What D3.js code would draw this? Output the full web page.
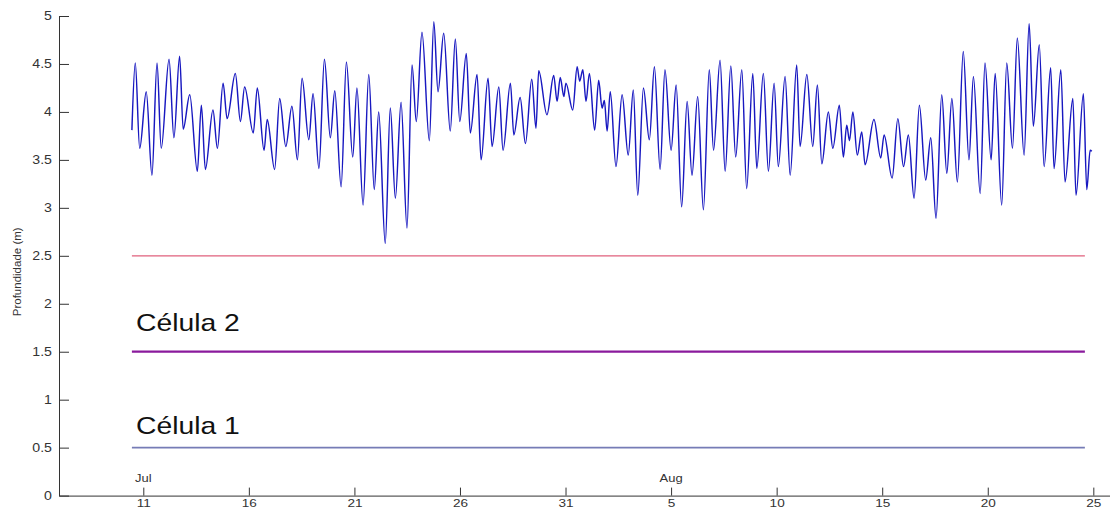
<!DOCTYPE html>
<html>
<head>
<meta charset="utf-8">
<script src="https://cdn.jsdelivr.net/npm/d3@7"></script>
<style>
  html, body { margin: 0; padding: 0; background: #fff; }
  svg { display: block; }
  text { font-family: "Liberation Sans", Arial, sans-serif; fill: #222; }
</style>
</head>
<body>
<svg id="chart" width="1110" height="510"></svg>
<script>
// Water depth record: time as day of July (August 1 = day 32), depth in metres
const tideDay = [
  10.46,10.62,10.83,11.14,11.41,11.65,11.85,12.22,12.45,12.72,12.89,13.20,13.56,13.75,13.94,14.30,14.51,14.78,
  14.97,15.36,15.60,15.80,16.21,16.40,16.72,16.87,17.22,17.46,17.75,18.04,18.30,18.52,18.84,19.04,19.32,19.58,
  19.86,20.07,20.37,20.62,20.92,21.12,21.41,21.68,21.94,22.15,22.46,22.70,22.94,23.21,23.49,23.73,23.93,24.20,
  24.55,24.76,24.96,25.23,25.54,25.78,25.99,26.30,26.49,26.81,27.00,27.33,27.52,27.84,28.04,28.39,28.55,28.85,
  29.10,29.40,29.60,29.73,30.12,30.44,30.60,30.75,30.92,31.02,31.34,31.55,31.67,31.82,31.97,32.13,32.38,32.57,
  32.73,32.84,32.97,33.12,33.39,33.68,33.97,34.21,34.42,34.69,34.97,35.21,35.48,35.71,36.00,36.24,36.50,36.76,
  36.99,37.26,37.53,37.81,38.01,38.32,38.56,38.83,39.06,39.35,39.58,39.87,40.06,40.37,40.61,40.88,41.08,41.40,
  41.64,41.95,42.11,42.43,42.71,42.93,43.14,43.45,43.66,43.97,44.16,44.32,44.45,44.61,44.82,45.03,45.19,45.61,
  45.93,46.09,46.47,46.74,47.01,47.24,47.51,47.76,48.06,48.30,48.55,48.82,49.06,49.30,49.56,49.84,50.11,50.32,
  50.64,50.87,51.16,51.35,51.66,51.90,52.17,52.40,52.72,52.96,53.16,53.44,53.67,53.98,54.14,54.46,54.66,55.03,
  55.18,55.53,55.69,55.85,55.93
];
const depth = [
  3.81,4.51,3.62,4.21,3.34,4.51,3.62,4.55,3.73,4.58,3.82,4.18,3.38,4.07,3.40,4.02,3.62,4.30,
  3.93,4.40,3.90,4.26,3.78,4.25,3.60,3.92,3.40,4.14,3.64,4.06,3.50,4.35,3.71,4.19,3.41,4.55,
  3.73,4.22,3.22,4.52,3.53,4.25,3.03,4.39,3.19,4.00,2.63,4.04,3.10,4.10,2.79,4.49,3.90,4.83,
  3.70,4.94,4.21,4.82,3.80,4.76,3.90,4.61,3.78,4.39,3.50,4.35,3.64,4.26,3.60,4.30,3.76,4.15,
  3.67,4.34,3.83,4.43,3.97,4.38,4.11,4.36,4.16,4.30,4.02,4.47,4.32,4.44,4.11,4.40,3.81,4.33,
  4.04,4.12,3.80,4.21,3.43,4.18,3.55,4.23,3.13,4.25,3.71,4.47,3.40,4.44,3.60,4.28,3.01,4.11,
  3.34,4.16,2.98,4.44,3.60,4.54,3.38,4.48,3.53,4.44,3.20,4.40,3.41,4.40,3.38,4.30,3.43,4.37,
  3.34,4.49,3.64,4.39,3.64,4.28,3.46,4.00,3.62,4.07,3.53,3.86,3.70,4.00,3.55,3.79,3.45,3.92,
  3.52,3.76,3.31,3.93,3.43,3.76,3.10,4.07,3.29,3.73,2.89,4.18,3.36,4.14,3.27,4.63,3.50,4.37,
  3.15,4.51,3.50,4.40,3.03,4.51,3.62,4.77,3.55,4.92,3.85,4.70,3.43,4.46,3.41,4.44,3.27,4.14,
  3.13,4.19,3.19,3.60,3.59
];

// Reference levels (cell boundaries)
const levelValues = [2.5, 1.5, 0.5];
const levelColors = ["#e0607c", "#8a1a9c", "#767cb6"];
const levelWidths = [1.3, 2.2, 1.6];
const levelSpan = [10.46, 55.6];

const cellNames = ["Célula 2", "Célula 1"];
const cellLevels = [1.5, 0.5];

// Axis ticks
const yTicks = [0, 0.5, 1, 1.5, 2, 2.5, 3, 3.5, 4, 4.5, 5];
const yTickLabels = ["0", "0.5", "1", "1.5", "2", "2.5", "3", "3.5", "4", "4.5", "5"];
const xTickDays = [11, 16, 21, 26, 31, 36, 41, 46, 51, 56];
const xTickLabels = ["11", "16", "21", "26", "31", "5", "10", "15", "20", "25"];
const monthDays = [11, 36];
const monthLabels = ["Jul", "Aug"];
const yTitle = "Profundidade (m)";

const base = new Date(2010, 6, 1);
const toDate = d => new Date(base.getTime() + (d - 1) * 864e5);

const svg = d3.select("#chart");
const X0 = 59, X1 = 1110, Y0 = 495.6, Y1 = 16;
const stretch = 1.18;

const x = d3.scaleTime()
  .domain([toDate(7.007), toDate(56.79)])
  .range([X0, X1]);
const y = d3.scaleLinear().domain([0, 5]).range([Y0, Y1]);

// Depth series
const series = tideDay.map((d, i) => ({ t: toDate(d), v: depth[i] }));
svg.append("path")
  .datum(series)
  .attr("fill", "none")
  .attr("stroke", "#1818c0")
  .attr("stroke-width", 1.45)
  .attr("stroke-linejoin", "round")
  .attr("d", d3.line().x(d => x(d.t)).y(d => y(d.v)).curve(d3.curveMonotoneX));

// Horizontal level lines
svg.selectAll("line.level")
  .data(levelValues)
  .join("line")
  .attr("class", "level")
  .attr("x1", x(toDate(levelSpan[0])))
  .attr("x2", x(toDate(levelSpan[1])))
  .attr("y1", d => y(d))
  .attr("y2", d => y(d))
  .attr("stroke", (d, i) => levelColors[i])
  .attr("stroke-width", (d, i) => levelWidths[i]);

// Cell labels
const cellOffsets = [21, 14];
svg.selectAll("text.cell")
  .data(cellNames)
  .join("text")
  .attr("class", "cell")
  .attr("transform", (d, i) => `translate(136,${y(cellLevels[i]) - cellOffsets[i]}) scale(${stretch},1)`)
  .attr("font-size", 24)
  .style("fill", "#111")
  .text(d => d);

// Y axis
const yAxis = svg.append("g")
  .attr("transform", `translate(${X0},0)`)
  .call(d3.axisLeft(y)
    .tickValues(yTicks)
    .tickFormat((d, i) => yTickLabels[i])
    .tickSize(-10)
    .tickSizeOuter(0)
    .tickPadding(6));
yAxis.selectAll("text")
  .attr("font-size", 12)
  .attr("transform", `scale(${stretch},1)`)
  .style("fill", "#333");
yAxis.selectAll("line, path").attr("stroke", "#333");
yAxis.attr("font-family", null);

// X axis
const xAxis = svg.append("g")
  .attr("transform", `translate(0,${Y0})`)
  .call(d3.axisBottom(x)
    .tickValues(xTickDays.map(toDate))
    .tickFormat((d, i) => xTickLabels[i])
    .tickSize(-8)
    .tickSizeOuter(0));
xAxis.selectAll("text")
  .attr("font-size", 11.5)
  .attr("y", 11.6)
  .attr("dy", null)
  .attr("transform", `scale(${stretch},1)`)
  .style("fill", "#333");
xAxis.selectAll("line, path").attr("stroke", "#333");
xAxis.attr("font-family", null);

// Month labels above first tick of each month
svg.selectAll("text.month")
  .data(monthLabels)
  .join("text")
  .attr("class", "month")
  .attr("transform", (d, i) => `translate(${x(toDate(monthDays[i]))},482) scale(${stretch},1)`)
  .attr("text-anchor", "middle")
  .attr("font-size", 11)
  .style("fill", "#333")
  .text(d => d);

// Y axis title
svg.append("text")
  .attr("transform", `translate(21,${(Y0 + Y1) / 2 + 16}) rotate(-90)`)
  .attr("text-anchor", "middle")
  .attr("font-size", 11.5)
  .style("fill", "#333")
  .text(yTitle);
</script>
</body>
</html>
